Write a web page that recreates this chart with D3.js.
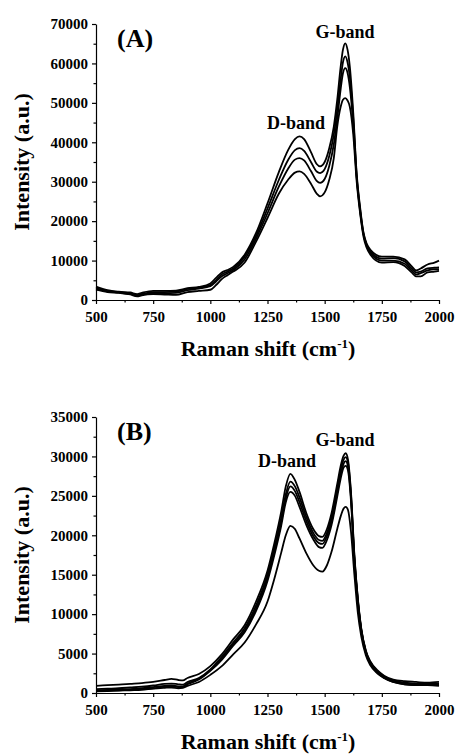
<!DOCTYPE html>
<html>
<head>
<meta charset="utf-8">
<script src="https://d3js.org/d3.v7.min.js"></script>
<style>
	body{
		margin:0;
		background:#fff;
	}
	text{
		font-family:"Liberation Serif","Times New Roman",serif;
		font-weight:bold;
		fill:#000;
	}
	.axis path, .axis line{
		stroke:#000;
		stroke-width:1.2;
	}
	.axis text{
		font-size:15px;
	}
	.curve{
		fill:none;
		stroke:#000;
		stroke-width:1.8;
		stroke-linejoin:round;
	}
</style>
</head>
<body>
<div id="container"></div>
<script type="text/javascript">

// ---- panel (A) ----
var shiftA = [500,550,600,650,680,700,750,800,850,900,950,1000,1025,1050,1075,1100,1150,1200,1250,1300,
	1340,1370,1390,1410,1440,1465,1480,1500,1520,1540,1555,1570,1580,1590,1600,1610,1625,1640,1655,1670,
	1700,1750,1800,1850,1880,1900,1920,1950,1980,2000];

var intensityA1 = [3400,2500,2100,1900,1500,1800,2300,2300,2400,3000,3300,4200,5600,7000,7600,8400,11500,17000,24500,32500,
	38000,40800,41500,40800,37500,34500,33900,35000,38500,44000,50800,59200,63500,65100,63500,59200,47500,32000,23500,17000,
	12700,11000,11000,10300,8600,7500,8000,9000,9500,10000];
var intensityA2 = [3000,2300,2000,1700,1200,1500,2000,2000,2100,2800,3100,3800,5000,6500,7200,8000,11000,16300,23200,30500,
	35500,38000,38500,37800,35000,32600,32200,33200,36500,42000,48300,56000,60300,61800,60300,56500,46000,31500,23000,16800,
	12300,10500,10600,9800,8000,7000,7200,8000,8200,8300];
var intensityA3 = [2800,2200,1900,1500,1100,1400,1700,1700,1800,2500,2900,3500,4700,6000,6800,7600,10300,15600,22000,28800,
	33300,35600,36000,35400,32700,30200,29700,30700,34000,39500,46000,53500,57500,58800,57600,54000,44500,31000,22500,16500,
	12000,10000,10000,9200,7500,6500,6800,7500,7800,7800];
var intensityA4 = [2600,2000,1800,1400,900,1200,1500,1400,1300,2000,2300,2600,3800,5300,6300,7200,9500,14800,20800,27000,
	30500,32300,32600,32000,29500,27000,26300,27300,30500,36000,44000,49000,50800,51200,50600,49000,42000,30000,22000,16000,
	11500,9500,9600,8600,7000,6000,6000,7000,7200,7400];

// ---- panel (B) ----
var shiftB = [500,550,600,650,700,750,800,830,860,880,900,950,1000,1050,1100,1150,1200,1250,1280,1310,
	1330,1350,1370,1390,1420,1450,1475,1490,1510,1530,1555,1570,1583,1592,1602,1615,1630,1645,1660,1680,
	1700,1730,1760,1800,1850,1900,1950,2000];

var intensityB1 = [900,1000,1050,1150,1250,1400,1650,1800,1650,1600,1900,2400,3400,4900,6800,8600,11600,15500,19000,23000,
	26200,27800,27000,25500,22800,20800,19900,19800,20800,22800,26500,28800,30100,30400,29600,25500,17500,12000,8200,5400,
	4000,2900,2200,1700,1500,1400,1300,1400];
var intensityB2 = [500,550,600,700,800,950,1150,1200,1100,1050,1400,1900,3000,4600,6400,8200,11100,15000,18400,22200,
	25200,26800,26200,24800,22300,20300,19400,19300,20300,22300,26000,28300,29600,29900,29200,25200,17300,11900,8100,5300,
	3900,2800,2100,1600,1300,1200,1200,1200];
var intensityB3 = [350,400,450,500,600,750,900,950,850,850,1200,1800,2900,4400,6200,7900,10700,14600,18000,21700,
	24700,26200,25600,24200,21800,19900,19000,18900,19900,21800,25400,27700,29100,29400,28700,24800,17000,11700,8000,5200,
	3800,2700,2000,1500,1200,1100,1100,1100];
var intensityB4 = [250,300,350,400,500,600,800,850,750,750,1100,1700,2800,4200,6000,7700,10400,14200,17500,21200,
	24200,25500,25000,23600,21300,19500,18500,18400,19400,21300,24900,27200,28600,28800,28200,24400,16800,11600,7900,5100,
	3700,2600,1900,1400,1100,1000,1000,1000];
var intensityB5 = [200,250,300,350,400,550,650,700,600,650,900,1400,2300,3400,4900,6400,8700,11600,14500,17800,
	20000,21200,20800,19600,17700,16200,15500,15400,16200,17900,20800,22400,23400,23600,23200,20500,15000,10200,7200,4800,
	3500,2500,1900,1400,1100,1000,1000,900];

var xTicks = [500,750,1000,1250,1500,1750,2000];
var yTicksA = [0,10000,20000,30000,40000,50000,60000,70000];
var yTicksB = [0,5000,10000,15000,20000,25000,30000,35000];

var svg = d3.select("#container")
	.append("svg")
	.attr("width", 457)
	.attr("height", 755);

function drawPanel(opt){
	var x = d3.scaleLinear().domain([500,2000]).range([96,439]);
	var y = d3.scaleLinear().domain([0,opt.yMax]).range([opt.bottom,opt.top]);
	var g = svg.append("g");

	// minor ticks
	g.append("g").attr("class","axis")
		.attr("transform","translate(0,"+opt.bottom+")")
		.call(d3.axisBottom(x).tickValues(d3.range(625,2000,250)).tickSize(2.5).tickFormat(""))
		.select(".domain").remove();
	g.append("g").attr("class","axis")
		.attr("transform","translate(96,0)")
		.call(d3.axisLeft(y).tickValues(opt.yTicks.slice(1).map(function(d){ return d - opt.yTicks[1]/2; })).tickSize(2.5).tickFormat(""))
		.select(".domain").remove();

	// main axes
	g.append("g").attr("class","axis")
		.attr("transform","translate(0,"+opt.bottom+")")
		.call(d3.axisBottom(x).tickValues(xTicks).tickSize(4).tickSizeOuter(0).tickPadding(7).tickFormat(d3.format("d")));
	g.append("g").attr("class","axis")
		.attr("transform","translate(96,0)")
		.call(d3.axisLeft(y).tickValues(opt.yTicks).tickSize(4).tickSizeOuter(0).tickPadding(4).tickFormat(d3.format("d")));

	var line = d3.line()
		.x(function(d){ return x(d[0]); })
		.y(function(d){ return y(d[1]); })
		.curve(d3.curveMonotoneX);

	opt.series.forEach(function(s){
		g.append("path")
			.attr("class","curve")
			.attr("d", line(d3.zip(opt.shift, s)));
	});

	// labels
	g.append("text").attr("x",117).attr("y",opt.top+23)
		.style("font-size","26px").text(opt.name);
	g.append("text").attr("x",x(opt.dPos[0])).attr("y",y(opt.dPos[1]))
		.attr("text-anchor","middle").style("font-size","18px").text("D-band");
	g.append("text").attr("x",x(opt.gPos[0])).attr("y",y(opt.gPos[1]))
		.attr("text-anchor","middle").style("font-size","18px").text("G-band");

	g.append("text")
		.attr("transform","translate(29,"+((opt.top+opt.bottom)/2)+") rotate(-90)")
		.attr("text-anchor","middle").style("font-size","22px")
		.text("Intensity (a.u.)");

	var xt = g.append("text")
		.attr("x",268).attr("y",opt.bottom+56)
		.attr("text-anchor","middle").style("font-size","22px");
	xt.append("tspan").text("Raman shift (cm");
	xt.append("tspan").attr("dy","-8").style("font-size","13px").text("-1");
	xt.append("tspan").attr("dy","8").text(")");
}

drawPanel({
	name:"(A)", top:24, bottom:300, yMax:70000, yTicks:yTicksA,
	shift:shiftA, series:[intensityA1,intensityA2,intensityA3,intensityA4],
	dPos:[1375,43400], gPos:[1589,66400]
});

drawPanel({
	name:"(B)", top:417, bottom:693, yMax:35000, yTicks:yTicksB,
	shift:shiftB, series:[intensityB1,intensityB2,intensityB3,intensityB4,intensityB5],
	dPos:[1335,28600], gPos:[1589,31300]
});

</script>
</body>
</html>
